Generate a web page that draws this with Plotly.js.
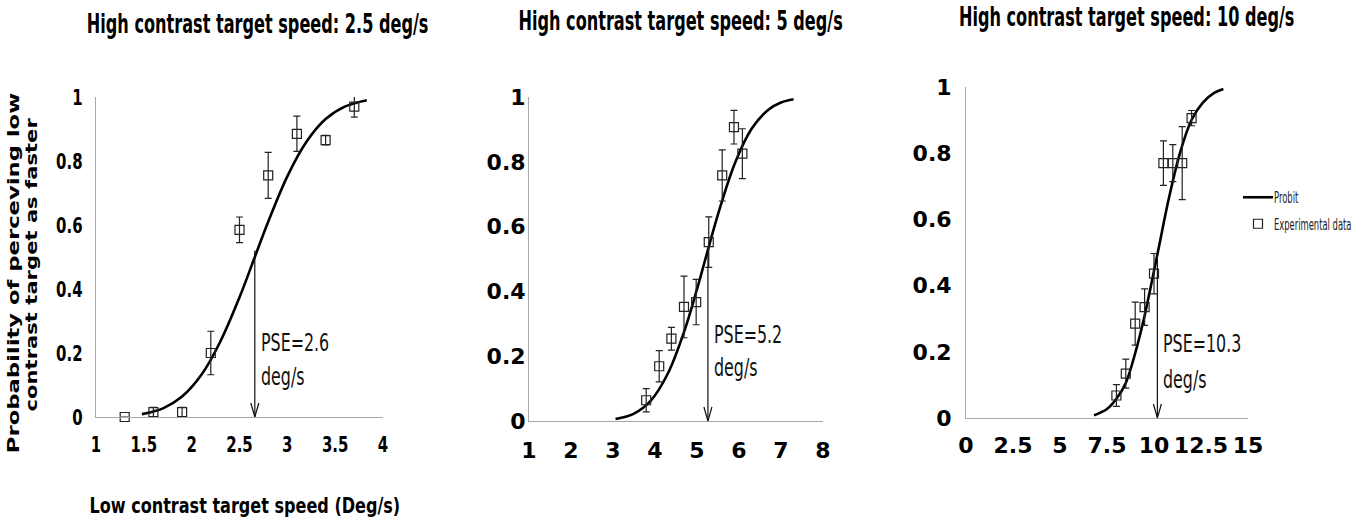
<!DOCTYPE html>
<html>
<head>
<meta charset="utf-8">
<script src="https://cdn.plot.ly/plotly-3.0.1.min.js"></script>
<style>html,body{margin:0;padding:0;background:#fff}#chart{width:1355px;height:518px}</style>
</head>
<body>
<div id="chart"></div>
<script>
// ---- data ----
const panelTitles = ["High contrast target speed: 2.5 deg/s", "High contrast target speed: 5 deg/s", "High contrast target speed: 10 deg/s"];
const pseLabels = ["PSE=2.6", "PSE=5.2", "PSE=10.3"];
const pseX = [2.66, 5.26, 10.18];
const pseTop = [0.52, 0.53, 0.49];

// panel 1 (2.5 deg/s)
const p1X = [1.3, 1.6, 1.9, 2.2, 2.5, 2.8, 3.1, 3.4, 3.7];
const p1Y = [0.0, 0.015, 0.015, 0.20, 0.585, 0.755, 0.885, 0.865, 0.97];
const p1Err = [0, 0.015, 0.015, 0.068, 0.04, 0.072, 0.055, 0.015, 0.033];
const c1X = [1.48, 1.7, 1.9, 2.1, 2.3, 2.5, 2.66, 2.8, 3.0, 3.2, 3.4, 3.6, 3.83];
const c1Y = [0.009, 0.027, 0.064, 0.131, 0.236, 0.374, 0.5, 0.61, 0.752, 0.86, 0.931, 0.970, 0.990];

// panel 2 (5 deg/s)
const p2X = [3.79, 4.10, 4.39, 4.69, 4.98, 5.28, 5.60, 5.88, 6.08];
const p2Y = [0.064, 0.169, 0.254, 0.352, 0.367, 0.552, 0.758, 0.907, 0.825];
const p2Err = [0.036, 0.048, 0.035, 0.095, 0.07, 0.078, 0.079, 0.052, 0.077];
const c2X = [3.06, 3.5, 3.9, 4.3, 4.7, 5.0, 5.2, 5.5, 5.9, 6.3, 6.7, 7.0, 7.3];
const c2Y = [0.006, 0.023, 0.063, 0.145, 0.278, 0.407, 0.5, 0.638, 0.795, 0.902, 0.961, 0.983, 0.993];

// panel 3 (10 deg/s)
const p3X = [8, 8.5, 9, 9.5, 10, 10.5, 11, 11.5, 12];
const p3Y = [0.068, 0.134, 0.285, 0.335, 0.436, 0.77, 0.77, 0.77, 0.906];
const p3Err = [0.033, 0.044, 0.065, 0.055, 0.061, 0.067, 0.056, 0.11, 0.023];
const c3X = [6.81, 7.5, 8.0, 8.5, 9.0, 9.5, 10.2, 10.8, 11.4, 12.0, 12.6, 13.2, 13.69];
const c3Y = [0.008, 0.027, 0.058, 0.106, 0.196, 0.309, 0.5, 0.666, 0.804, 0.901, 0.953, 0.982, 0.994];

const xTickVals1 = [1, 1.5, 2, 2.5, 3, 3.5, 4];
const xTickVals2 = [1, 2, 3, 4, 5, 6, 7, 8];
const xTickVals3 = [0, 2.5, 5, 7.5, 10, 12.5, 15];
const yTickVals = [0, 0.2, 0.4, 0.6, 0.8, 1];

// ---- styling ----
const FONT = "DejaVu Sans, Verdana, sans-serif";
const W = 1355, H = 518;
const px = v => v / W;
const py = v => 1 - v / H;

const curves = [[c1X, c1Y], [c2X, c2Y], [c3X, c3Y]];
const pts = [[p1X, p1Y, p1Err], [p2X, p2Y, p2Err], [p3X, p3Y, p3Err]];
const axNames = [["x", "y"], ["x2", "y2"], ["x3", "y3"]];

const traces = [];
for (let i = 0; i < 3; i++) {
  traces.push({
    x: curves[i][0], y: curves[i][1], type: "scatter", mode: "lines",
    line: {color: "#000", width: 2.6, shape: "spline", smoothing: 1},
    xaxis: axNames[i][0], yaxis: axNames[i][1], cliponaxis: false,
    name: "Probit", showlegend: i === 2, legendgroup: "a", hoverinfo: "skip"
  });
}
for (let i = 0; i < 3; i++) {
  traces.push({
    x: pts[i][0], y: pts[i][1], type: "scatter", mode: "markers",
    marker: {symbol: "square-open", size: 9, color: "#222", line: {width: 1.2, color: "#222"}},
    error_y: {type: "data", array: pts[i][2], visible: true, color: "#222", thickness: 1.2, width: 3.5},
    xaxis: axNames[i][0], yaxis: axNames[i][1], cliponaxis: false,
    name: "Experimental data", showlegend: i === 2, legendgroup: "b", hoverinfo: "skip"
  });
}

function xax(domain, range, tickvals, standoff) {
  return {domain: domain, range: range, tickvals: tickvals, showline: true, linecolor: "#a8a8a8", linewidth: 1,
    showgrid: false, zeroline: false, ticks: "", ticklabelstandoff: standoff, fixedrange: true, automargin: false,
    tickfont: {family: FONT, size: 22, color: "#000", weight: "bold"}};
}
function yax(domain, anchor, standoff) {
  return {domain: domain, range: [0, 1], tickvals: yTickVals, anchor: anchor, showline: true, linecolor: "#a8a8a8",
    linewidth: 1, showgrid: false, zeroline: false, ticks: "", ticklabelstandoff: standoff, fixedrange: true, automargin: false,
    tickfont: {family: FONT, size: 22, color: "#000", weight: "bold"}};
}

const layout = {
  width: W, height: H, margin: {l: 0, r: 0, t: 0, b: 0, autoexpand: false},
  paper_bgcolor: "#fff", plot_bgcolor: "rgba(0,0,0,0)",
  xaxis: Object.assign(xax([px(96), px(383)], [1, 4], xTickVals1, 8), {anchor: "y"}),
  yaxis: yax([py(417), py(97)], "x", 8),
  xaxis2: Object.assign(xax([px(529), px(823)], [1, 8], xTickVals2, 10), {anchor: "y2"}),
  yaxis2: yax([py(421), py(97)], "x2", -2),
  xaxis3: Object.assign(xax([px(966), px(1248)], [0, 15], xTickVals3, 8), {anchor: "y3"}),
  yaxis3: yax([py(418), py(87)], "x3", 9),
  showlegend: true,
  legend: {x: px(1238), y: py(181), xanchor: "left", yanchor: "top", bgcolor: "rgba(0,0,0,0)",
    font: {family: FONT, size: 15, color: "#222"}, traceorder: "grouped", tracegroupgap: 4, itemwidth: 30},
  annotations: [],
  shapes: []
};
const squeezeF = []; // horizontal text compression per annotation

const titlePos = [[257, 24], [680, 21], [1126, 17.5]];
for (let i = 0; i < 3; i++) {
  layout.annotations.push({text: panelTitles[i], xref: "paper", yref: "paper", x: px(titlePos[i][0]), y: py(titlePos[i][1]),
    xanchor: "center", yanchor: "middle", showarrow: false, font: {family: FONT, size: 26, color: "#000", weight: "bold"}});
  squeezeF.push(0.62);
}
layout.annotations.push({text: "Low contrast target speed (Deg/s)", xref: "paper", yref: "paper", x: px(245), y: py(505),
  xanchor: "center", yanchor: "middle", showarrow: false, font: {family: FONT, size: 22, color: "#000", weight: "bold"}});
squeezeF.push(0.73);
layout.annotations.push({text: "Probability of perceving low", xref: "paper", yref: "paper",
  x: px(13), y: py(273), xanchor: "center", yanchor: "middle", textangle: -90, showarrow: false,
  font: {family: FONT, size: 16, color: "#000", weight: "bold"}});
squeezeF.push(1.42);
layout.annotations.push({text: "contrast target as faster", xref: "paper", yref: "paper",
  x: px(31), y: py(265), xanchor: "center", yanchor: "middle", textangle: -90, showarrow: false,
  font: {family: FONT, size: 16, color: "#000", weight: "bold"}});
squeezeF.push(1.32);

const labelY = [[0.234, 0.126], [0.268, 0.165], [0.226, 0.115]];
for (let i = 0; i < 3; i++) {
  const xr = axNames[i][0], yr = axNames[i][1];
  layout.annotations.push({text: pseLabels[i], xref: xr, yref: yr, x: pseX[i], y: labelY[i][0], xanchor: "left", yanchor: "middle",
    align: "left", xshift: 4, showarrow: false, font: {family: FONT, size: 25, color: "#111"}});
  squeezeF.push(0.635);
  layout.annotations.push({text: "deg/s", xref: xr, yref: yr, x: pseX[i], y: labelY[i][1], xanchor: "left", yanchor: "middle",
    align: "left", xshift: 4, showarrow: false, font: {family: FONT, size: 25, color: "#111"}});
  squeezeF.push(0.635);
  layout.shapes.push({type: "line", xref: xr, yref: yr, x0: pseX[i], x1: pseX[i], y0: 0, y1: pseTop[i],
    line: {color: "#111", width: 1.2}});
  layout.shapes.push({type: "path", xref: xr, yref: yr, xsizemode: "pixel", ysizemode: "pixel",
    xanchor: pseX[i], yanchor: 0, path: "M -4,14 L 0,0 L 4,14", line: {color: "#111", width: 1.2}});
}

// compress text horizontally along its baseline around its anchor (the reference picture is squeezed)
function squeeze(el, f) {
  const ax = parseFloat(el.getAttribute("x")) || 0;
  const prev = el.getAttribute("transform") || "";
  el.setAttribute("transform", (prev + " translate(" + ax + ",0) scale(" + f + ",1) translate(" + (-ax) + ",0)").trim());
  return ax;
}

const gd = document.getElementById("chart");
Plotly.newPlot(gd, traces, layout, {staticPlot: true, displayModeBar: false}).then(() => {
  gd.querySelectorAll("g.annotation").forEach(g => {
    const idx = +g.getAttribute("data-index");
    const t = g.querySelector("text.annotation-text");
    if (t && squeezeF[idx] !== undefined) {
      const f = squeezeF[idx];
      const b = t.getBBox();
      const ax = squeeze(t, f);
      const bg = g.querySelector("rect.bg");
      if (bg) {
        bg.setAttribute("x", (ax + (b.x - ax) * f).toFixed(2));
        bg.setAttribute("width", (b.width * f).toFixed(2));
      }
    }
  });
  gd.querySelectorAll(".xtick text, .ytick text").forEach(t => squeeze(t, 0.68));
  gd.querySelectorAll("text.legendtext").forEach(t => {
    t.setAttribute("x", "36");
    squeeze(t, 0.56);
  });
});
</script>
</body>
</html>
